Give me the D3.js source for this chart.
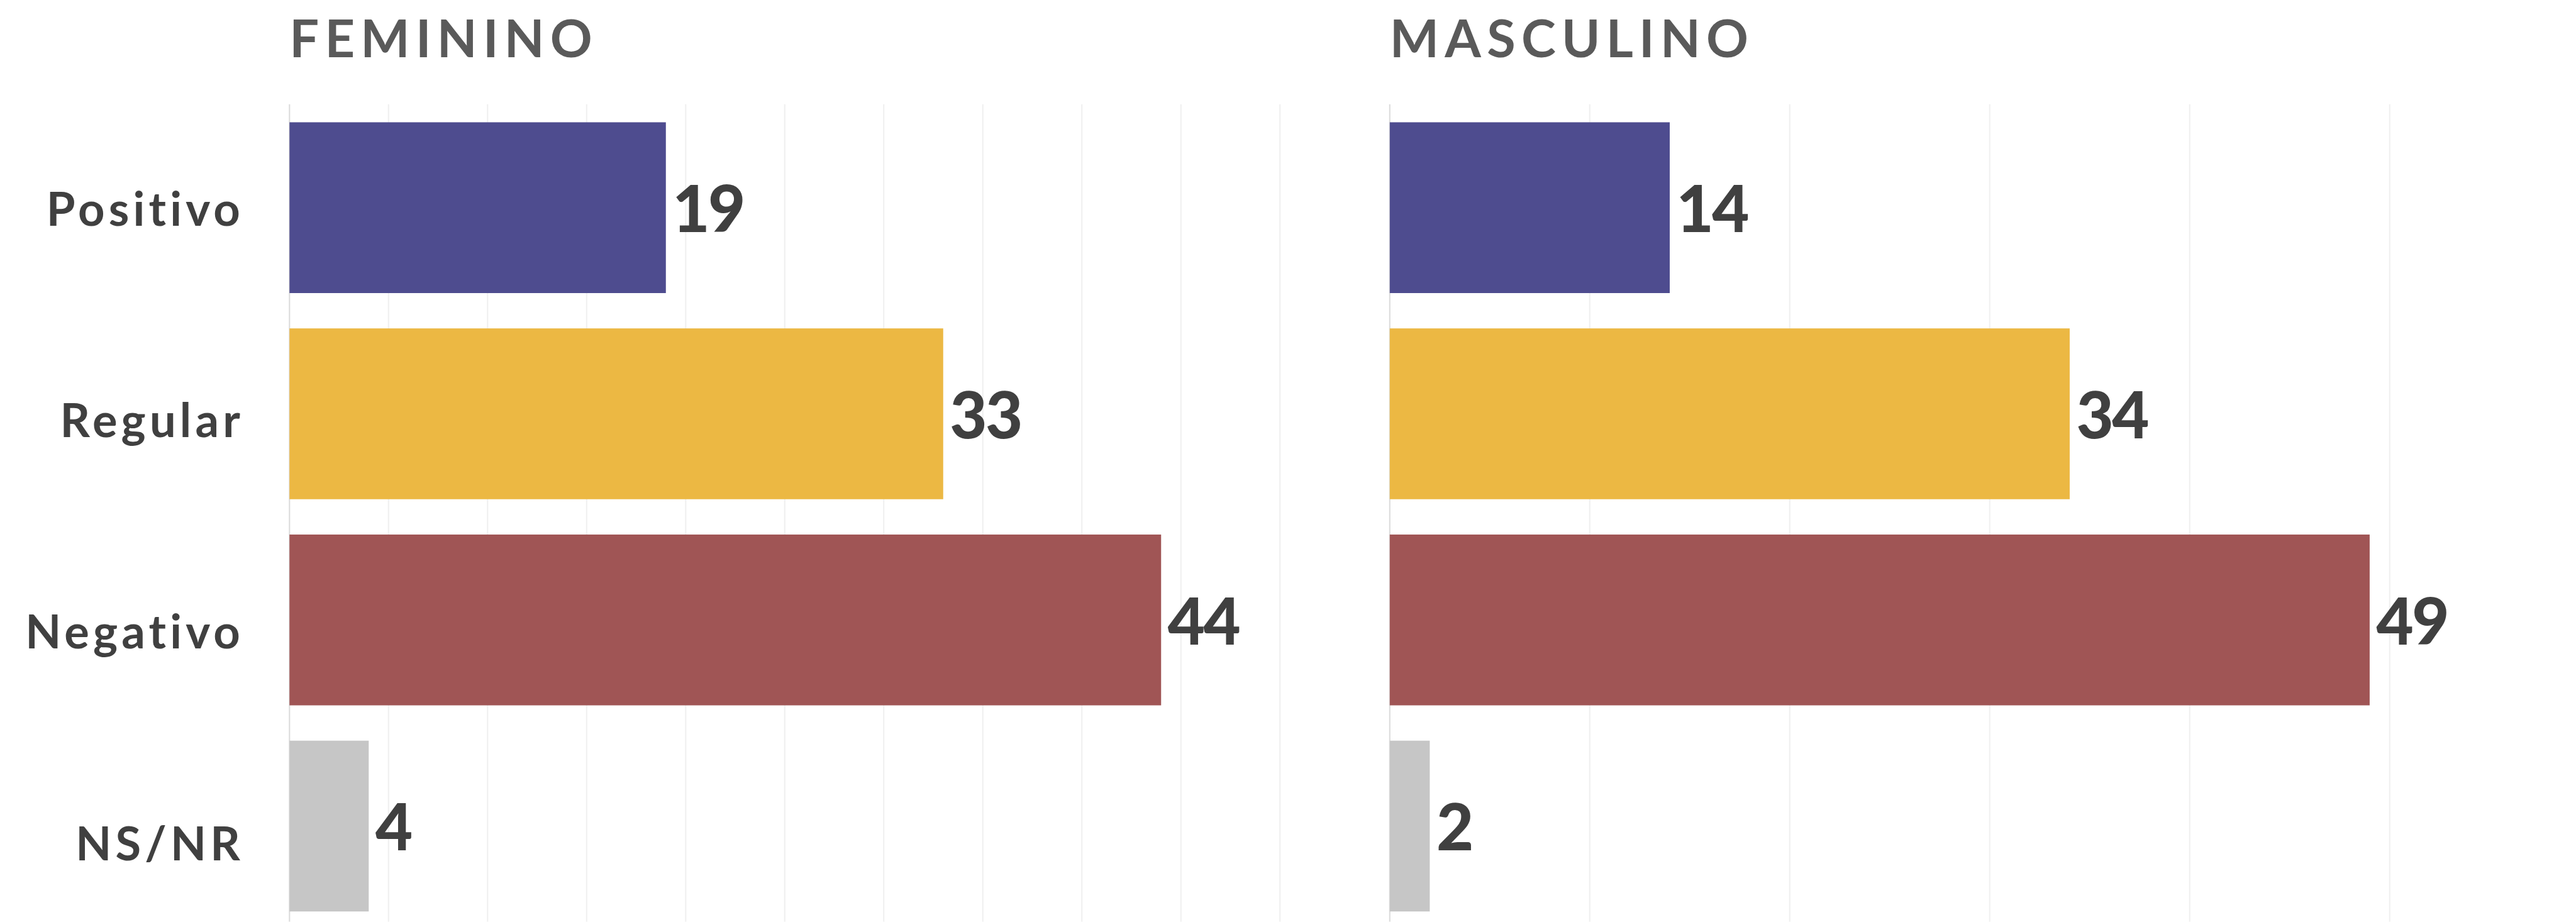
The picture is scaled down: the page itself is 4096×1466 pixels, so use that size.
<!DOCTYPE html>
<html>
<head>
<meta charset="utf-8">
<script src="https://cdn.jsdelivr.net/npm/d3@7"></script>
<style>
  html, body { margin: 0; padding: 0; background: #fff; }
  svg { display: block; }
</style>
</head>
<body>
<svg id="chart"></svg>
<script>
(function() {

  // data
  var categories = ["Positivo", "Regular", "Negativo", "NS/NR"];
  var feminino = [19, 33, 44, 4];
  var masculino = [14, 34, 49, 2];
  var panelTitles = ["FEMININO", "MASCULINO"];
  var gridFem = [0, 5, 10, 15, 20, 25, 30, 35, 40, 45, 50];
  var gridMas = [0, 10, 20, 30, 40, 50];
  var colors = ["#4e4c8f", "#ecb843", "#a05555", "#c6c6c6"];

  // drawn in reference units, then scaled down to the window
  var refW = 4645, refH = 1662;
  var k = 4096 / refW;

  var svg = d3.select("#chart")
      .attr("width", 4096)
      .attr("height", 1466);

  var root = svg.append("g").attr("transform", "scale(" + k + ")");

  var gridTop = 188;

  var y = d3.scaleBand()
      .domain(categories)
      .range([gridTop, gridTop + 1488])
      .paddingInner(0.1714)
      .paddingOuter(0.0874);

  var yLabel = d3.scalePoint()
      .domain(categories)
      .range([407, 1551]);

  var panels = [
    { title: panelTitles[0], values: feminino, grid: gridFem,
      x: d3.scaleLinear().domain([0, 50]).range([522, 2308]) },
    { title: panelTitles[1], values: masculino, grid: gridMas,
      x: d3.scaleLinear().domain([0, 50]).range([2506, 4309]) }
  ];

  panels.forEach(function(p) {
    var g = root.append("g");

    // grid
    g.selectAll("line.grid")
      .data(p.grid)
      .enter().append("line")
        .attr("class", "grid")
        .attr("x1", function(d) { return p.x(d); })
        .attr("x2", function(d) { return p.x(d); })
        .attr("y1", gridTop)
        .attr("y2", refH)
        .attr("stroke", function(d) { return d === 0 ? "#dcdcdc" : "#f0f0f0"; })
        .attr("stroke-width", 2.4);

    // title
    g.append("text")
        .attr("x", p.x(0))
        .attr("y", 103)
        .text(p.title)
        .style("font-family", "Lato, sans-serif")
        .style("font-weight", "700")
        .style("font-size", "94px")
        .style("letter-spacing", "10.5px")
        .style("fill", "#5a5a5a");

    var rows = categories.map(function(c, i) {
      return { cat: c, value: p.values[i], color: colors[i] };
    });

    // bars
    g.selectAll("rect.bar")
      .data(rows)
      .enter().append("rect")
        .attr("class", "bar")
        .attr("x", p.x(0))
        .attr("y", function(d) { return y(d.cat); })
        .attr("width", function(d) { return p.x(d.value) - p.x(0); })
        .attr("height", y.bandwidth())
        .style("fill", function(d) { return d.color; });

    // values
    g.selectAll("text.value")
      .data(rows)
      .enter().append("text")
        .attr("class", "value")
        .attr("x", function(d) { return p.x(d.value) + 12; })
        .attr("y", function(d) { return y(d.cat) + y.bandwidth() / 2 + 44; })
        .text(function(d) { return d.value; })
        .style("font-family", "Lato, sans-serif")
        .style("font-weight", "900")
        .style("font-size", "116px")
        .style("letter-spacing", "-3px")
        .style("fill", "#404040");
  });

  // category labels (left panel only)
  root.selectAll("text.cat")
    .data(categories)
    .enter().append("text")
      .attr("class", "cat")
      .attr("x", 440)
      .attr("y", function(d) { return yLabel(d); })
      .attr("text-anchor", "end")
      .text(function(d) { return d; })
      .style("font-family", "Lato, sans-serif")
      .style("font-weight", "700")
      .style("font-size", "84px")
      .style("letter-spacing", "7px")
      .style("fill", "#404040");

})();
</script>
</body>
</html>
